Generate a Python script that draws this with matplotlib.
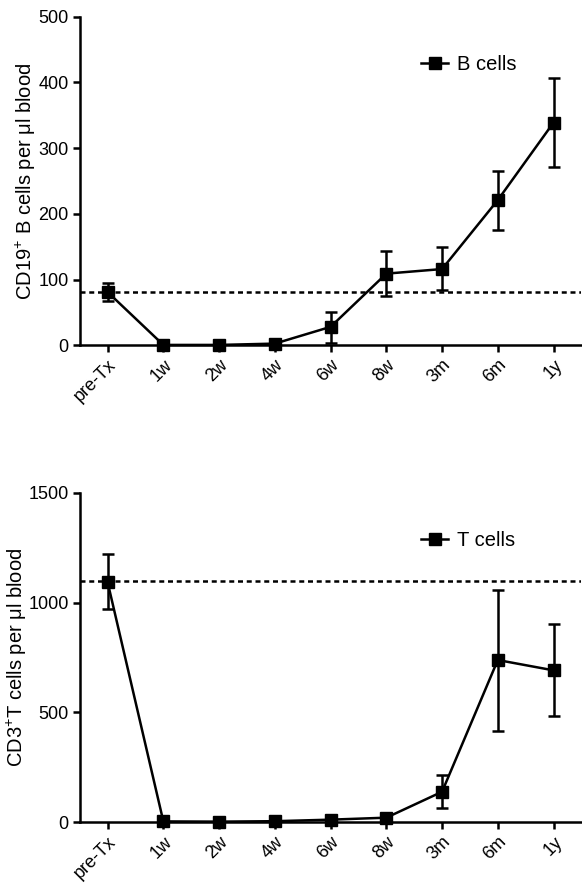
import matplotlib
matplotlib.use('Agg')
import matplotlib.pyplot as plt
from matplotlib.lines import Line2D

plt.rcParams['font.family'] = ['Liberation Sans', 'DejaVu Sans']
plt.rcParams['mathtext.fontset'] = 'custom'
plt.rcParams['mathtext.rm'] = 'Liberation Sans'
plt.rcParams['mathtext.it'] = 'Liberation Sans'
plt.rcParams['mathtext.default'] = 'regular'

# time points
timepoints = ['pre-Tx', '1w', '2w', '4w', '6w', '8w', '3m', '6m', '1y']

# B cells (CD19+ per ul blood)
b_mean = [81, 0.5, 0.5, 2.5, 28, 109, 116, 221, 339]
b_upper = [94, 0.5, 0.5, 2.5, 51, 143, 150, 266, 407]
b_lower = [68, 0.5, 0.5, 2.5, 4, 75, 84, 176, 272]
b_ref = 81

# T cells (CD3+ per ul blood)
t_mean = [1093, 3, 2, 4, 11, 20, 138, 738, 691]
t_upper = [1219, 3, 2, 4, 11, 20, 214, 1058, 900]
t_lower = [969, 3, 2, 4, 11, 20, 62, 417, 483]
t_ref = 1096

LW = 1.8

fig = plt.figure(figsize=(5.82, 8.83), dpi=100)
ax1 = fig.add_axes([0.137, 0.609, 0.862, 0.372])
ax2 = fig.add_axes([0.137, 0.069, 0.862, 0.373])


def draw(ax, mean, lower, upper, ref, label, ylabel, ymax, ystep, labelx):
    x = list(range(len(timepoints)))
    err = [[m - l for m, l in zip(mean, lower)], [u - m for m, u in zip(mean, upper)]]
    ax.errorbar(x, mean, yerr=err, color='black', lw=LW, marker='s', ms=8.5,
                capsize=4.5, capthick=LW, elinewidth=LW, zorder=3, clip_on=False)
    ax.axhline(ref, color='black', lw=LW, ls=(0, (2.0, 1.5)), zorder=2)
    ax.set_xlim(-0.5, 8.5)
    ax.set_ylim(0, ymax)
    ax.set_yticks(range(0, ymax + 1, ystep))
    ax.set_xticks(x)
    ax.set_xticklabels(timepoints, rotation=45, ha='right', rotation_mode='anchor')
    ax.set_ylabel(ylabel, fontsize=14.5)
    ax.yaxis.set_label_coords(labelx, 0.5)
    for s in ['top', 'right']:
        ax.spines[s].set_visible(False)
    for s in ['left', 'bottom']:
        ax.spines[s].set_linewidth(LW)
    ax.tick_params(direction='out', length=5, width=LW, labelsize=13, pad=3)
    handle = Line2D([], [], color='black', lw=LW, marker='s', ms=8.5)
    ax.legend([handle], [label], loc='upper left', bbox_to_anchor=(0.645, 0.94),
              frameon=False, fontsize=14.5, handlelength=1.3, handletextpad=0.45)


draw(ax1, b_mean, b_lower, b_upper, b_ref, 'B cells',
     r'CD19$^{+}$ B cells per $\mu$l blood', 500, 100, -0.084)
draw(ax2, t_mean, t_lower, t_upper, t_ref, 'T cells',
     r'CD3$^{+}$T cells per $\mu$l blood', 1500, 500, -0.102)

fig.savefig('out.png', dpi=100)
